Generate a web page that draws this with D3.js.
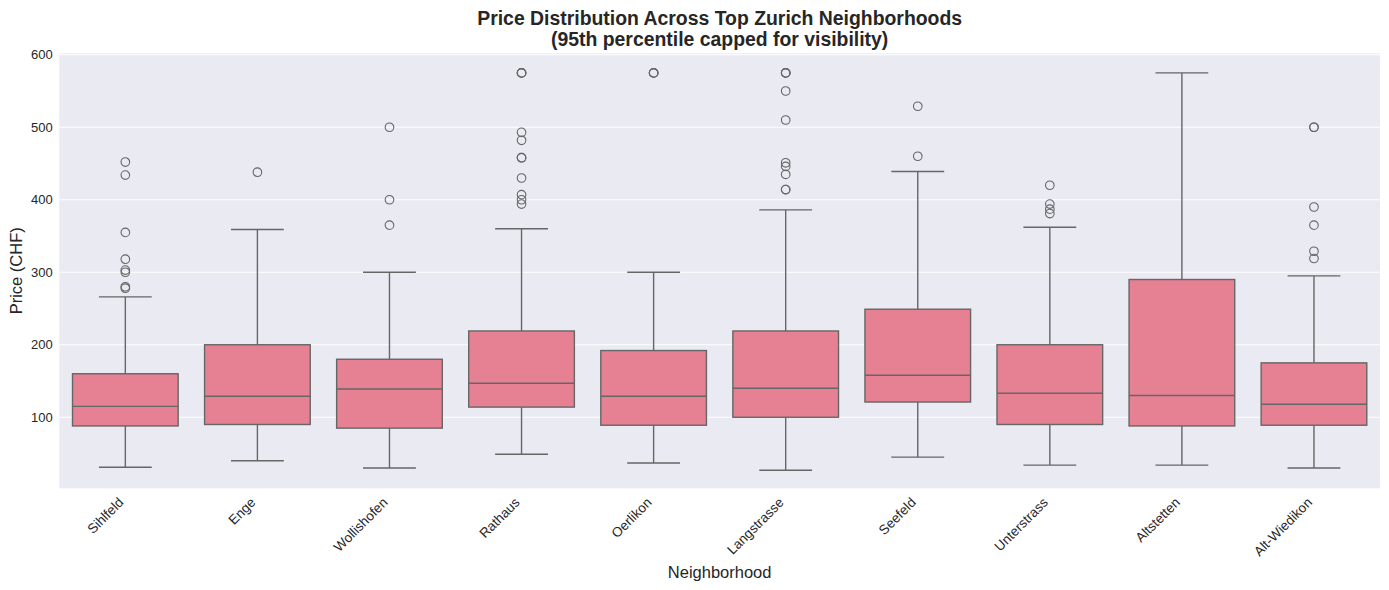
<!DOCTYPE html>
<html>
<head>
<meta charset="utf-8">
<script src="https://cdn.jsdelivr.net/npm/d3@7"></script>
<style>
  body { margin: 0; background: #fff; }
  text { font-family: "Liberation Sans", Arial, sans-serif; fill: #262626; }
</style>
</head>
<body>
<svg id="chart" width="1389" height="590"></svg>
<script>
// neighbourhoods in plotted order
const neighborhoods = ['Sihlfeld', 'Enge', 'Wollishofen', 'Rathaus', 'Oerlikon',
    'Langstrasse', 'Seefeld', 'Unterstrass', 'Altstetten', 'Alt-Wiedikon'];

// box statistics, CHF
const whiskerLow  = [31, 40, 30, 49, 37, 27, 45, 34, 34, 30];
const q1          = [88, 90, 85, 114, 89, 100, 121, 90, 88, 89];
const medians     = [115, 129, 139, 147, 129, 140, 158, 133, 130, 118];
const q3          = [160, 200, 180, 219, 192, 219, 249, 200, 290, 175];
const whiskerHigh = [266, 359, 300, 360, 300, 386, 439, 362, 575, 295];

// outliers per neighbourhood (capped values repeat)
const outliers = [
    [452, 434, 355, 318, 303, 300, 280, 278],
    [438],
    [500, 400, 365],
    [575, 575, 575, 493, 482, 458, 458, 430, 407, 400, 394],
    [575, 575, 575],
    [575, 575, 575, 550, 510, 451, 446, 435, 414, 414],
    [529, 460],
    [420, 394, 387, 381],
    [],
    [500, 500, 390, 365, 329, 319]
];

const yTicks = [100, 200, 300, 400, 500, 600];

const margin = {top: 53.3, right: 9, bottom: 101.7, left: 59.3};
const width = 1389 - margin.left - margin.right;
const height = 590 - margin.top - margin.bottom;

const lineColor = '#666666';
const boxColor = '#e68093';

const svg = d3.select('#chart');
const g = svg.append('g').attr('transform', `translate(${margin.left},${margin.top})`);

const x = d3.scaleBand().domain(neighborhoods).range([0, width]).paddingInner(0).paddingOuter(0);
const y = d3.scaleLinear().domain([2, 602]).range([height, 0]);

// background + grid
g.append('rect').attr('width', width).attr('height', height).attr('fill', '#eaeaf2');

g.append('g').attr('class', 'grid')
    .selectAll('line')
    .data(yTicks)
    .enter()
    .append('line')
    .attr('x1', 0).attr('x2', width)
    .attr('y1', d => y(d)).attr('y2', d => y(d))
    .attr('stroke', 'white').attr('stroke-width', 1.1);

// y axis
const yAxis = g.append('g').attr('class', 'y axis')
    .call(d3.axisLeft(y).tickValues(yTicks).tickSize(0).tickPadding(6.5));
yAxis.select('.domain').remove();
yAxis.selectAll('.tick text')
    .attr('font-size', 13)
    .attr('font-family', '"Liberation Sans", Arial, sans-serif')
    .attr('fill', '#262626');

// x axis
const xAxis = g.append('g').attr('class', 'x axis')
    .attr('transform', `translate(0,${height})`)
    .call(d3.axisBottom(x).tickSize(0).tickFormat(d => d));
xAxis.select('.domain').remove();
xAxis.selectAll('.tick text')
    .attr('font-size', 13.5)
    .attr('font-family', '"Liberation Sans", Arial, sans-serif')
    .attr('fill', '#262626')
    .attr('text-anchor', 'end')
    .attr('dy', 0)
    .attr('y', 0)
    .attr('transform', 'translate(-1,15) rotate(-45)');

// boxes
const boxW = x.bandwidth() * 0.8;
const capW = boxW / 2;
const data = neighborhoods.map((n, i) => ({
    name: n, lo: whiskerLow[i], q1: q1[i], med: medians[i], q3: q3[i], hi: whiskerHigh[i], out: outliers[i]
}));

const boxes = g.append('g').attr('class', 'boxes')
    .selectAll('g')
    .data(data)
    .enter()
    .append('g')
    .attr('transform', d => `translate(${x(d.name) + x.bandwidth() / 2},0)`);

boxes.append('line')
    .attr('x1', 0).attr('x2', 0)
    .attr('y1', d => y(d.q3)).attr('y2', d => y(d.hi))
    .attr('stroke', lineColor).attr('stroke-width', 1.4);
boxes.append('line')
    .attr('x1', 0).attr('x2', 0)
    .attr('y1', d => y(d.q1)).attr('y2', d => y(d.lo))
    .attr('stroke', lineColor).attr('stroke-width', 1.4);
boxes.append('line')
    .attr('x1', -capW / 2).attr('x2', capW / 2)
    .attr('y1', d => y(d.hi)).attr('y2', d => y(d.hi))
    .attr('stroke', lineColor).attr('stroke-width', 1.4);
boxes.append('line')
    .attr('x1', -capW / 2).attr('x2', capW / 2)
    .attr('y1', d => y(d.lo)).attr('y2', d => y(d.lo))
    .attr('stroke', lineColor).attr('stroke-width', 1.4);

boxes.append('rect')
    .attr('x', -boxW / 2)
    .attr('width', boxW)
    .attr('y', d => y(d.q3))
    .attr('height', d => y(d.q1) - y(d.q3))
    .attr('fill', boxColor)
    .attr('stroke', lineColor).attr('stroke-width', 1.4);

boxes.append('line')
    .attr('x1', -boxW / 2).attr('x2', boxW / 2)
    .attr('y1', d => y(d.med)).attr('y2', d => y(d.med))
    .attr('stroke', lineColor).attr('stroke-width', 1.4);

boxes.selectAll('circle')
    .data(d => d.out)
    .enter()
    .append('circle')
    .attr('cx', 0)
    .attr('cy', d => y(d))
    .attr('r', 4.3)
    .attr('fill', 'none')
    .attr('stroke', lineColor)
    .attr('stroke-width', 1.1);

// labels
svg.append('text')
    .text('Price Distribution Across Top Zurich Neighborhoods')
    .attr('x', margin.left + width / 2).attr('y', 25)
    .attr('text-anchor', 'middle')
    .attr('font-size', 19.4).attr('font-weight', 'bold');
svg.append('text')
    .text('(95th percentile capped for visibility)')
    .attr('x', margin.left + width / 2).attr('y', 45.5)
    .attr('text-anchor', 'middle')
    .attr('font-size', 19.4).attr('font-weight', 'bold');

svg.append('text')
    .text('Price (CHF)')
    .attr('transform', `translate(22,${margin.top + height / 2}) rotate(-90)`)
    .attr('text-anchor', 'middle')
    .attr('font-size', 16.5);

svg.append('text')
    .text('Neighborhood')
    .attr('x', margin.left + width / 2).attr('y', 578)
    .attr('text-anchor', 'middle')
    .attr('font-size', 16.5);
</script>
</body>
</html>
